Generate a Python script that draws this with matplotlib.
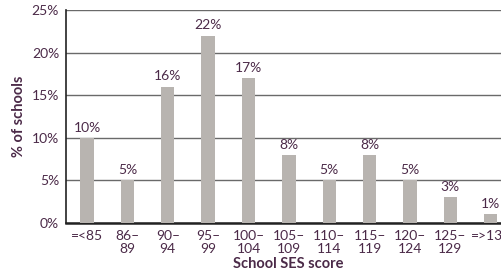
import numpy as np
import matplotlib.pyplot as plt

# data
categories = ['=<85', '86–\n89', '90–\n94', '95–\n99', '100–\n104', '105–\n109',
              '110–\n114', '115–\n119', '120–\n124', '125–\n129', '=>130']
share = [10, 5, 16, 22, 17, 8, 5, 8, 5, 3, 1]
yticks = [0, 5, 10, 15, 20, 25]

txt = '#4b2a48'
bar_col = '#b8b4b0'

plt.rcParams['font.family'] = ['Lato', 'DejaVu Sans']

fig = plt.figure(figsize=(5.01, 2.73), dpi=100)
# axes run past the right edge, as in the original
ax = fig.add_axes([66 / 501, 50 / 273, 445 / 501, 213 / 273])

x = np.arange(len(categories))
ax.bar(x, share, width=0.33, color=bar_col, zorder=3)
for xi, v in zip(x, share):
    ax.text(xi, v + 0.5, f'{v}%', ha='center', va='bottom', fontsize=10, color=txt)

ax.set_xlim(-0.52, len(categories) - 0.5)
ax.set_ylim(0, 25)
ax.set_yticks(yticks)
ax.set_yticklabels([f'{t}%' for t in yticks])
ax.set_xticks(x)
ax.set_xticklabels(categories, linespacing=1.15)
ax.tick_params(axis='both', length=0, labelsize=10, labelcolor=txt)
ax.tick_params(axis='x', pad=5)
ax.tick_params(axis='y', pad=5)

ax.grid(axis='y', color='#6a6a6a', linewidth=1.0, zorder=1)
for s in ['top', 'right']:
    ax.spines[s].set_visible(False)
ax.spines['left'].set_color('#222222')
ax.spines['left'].set_linewidth(1.2)
ax.spines['bottom'].set_color('#222222')
ax.spines['bottom'].set_linewidth(1.8)

ax.set_ylabel('% of schools', fontsize=10.5, fontweight='bold', color=txt, labelpad=4)
ax.set_xlabel('School SES score', fontsize=10.5, fontweight='bold', color=txt, labelpad=1)

fig.savefig('out.png', dpi=100)
